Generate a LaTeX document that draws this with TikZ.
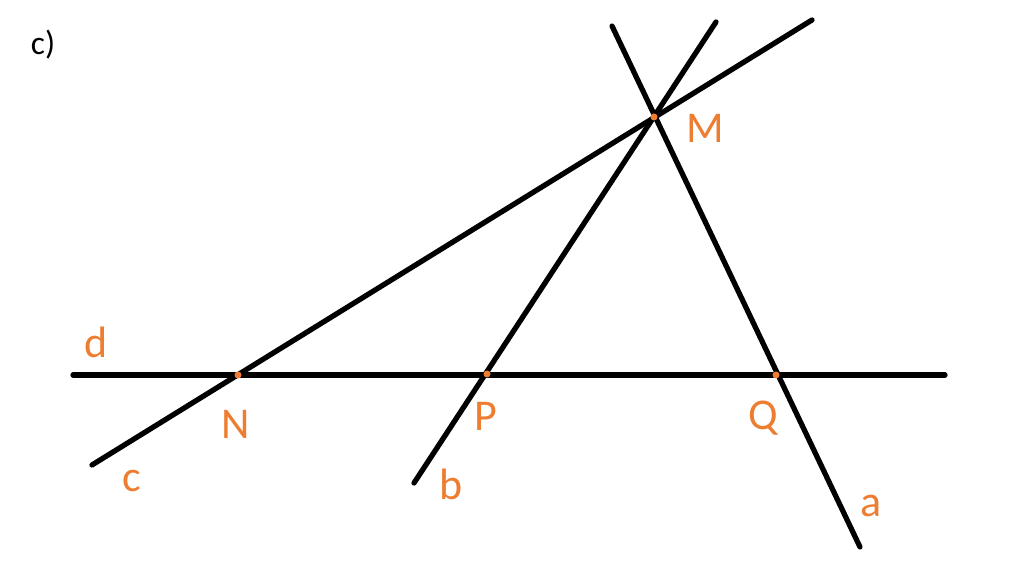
\documentclass[tikz,border=0pt]{standalone}
\usepackage{fontspec}
\setmainfont{Carlito}
\definecolor{pomarancz}{RGB}{237,125,49}

\begin{document}
\begin{tikzpicture}[x=0.01cm, y=-0.01cm,
    prosta/.style={line width=1.5pt, black, line cap=round},
    punkt/.style={circle, fill=pomarancz, inner sep=0pt, minimum size=0.07cm},
    etykieta/.style={pomarancz, inner sep=0pt, font=\fontsize{12.5}{15}\selectfont}]
    % Ramka
    \useasboundingbox (0,0) rectangle (1024,586);

    % Podpis
    \node[inner sep=0pt, font=\fontsize{9.5}{11}\selectfont] (podpis) at (43,45) {c)};

    % Końce prostych
    \coordinate (d1) at (73,375);
    \coordinate (d2) at (945,375);
    \coordinate (c1) at (92,465);
    \coordinate (c2) at (812,20);
    \coordinate (b1) at (414,483);
    \coordinate (b2) at (716,22);
    \coordinate (a1) at (860,547);
    \coordinate (a2) at (612,26);

    % Proste
    \draw[prosta] (d1) -- (d2);
    \draw[prosta] (c1) -- (c2);
    \draw[prosta] (b1) -- (b2);
    \draw[prosta] (a1) -- (a2);

    % Punkty przecięcia
    \node[punkt] (M) at (654,117) {};
    \node[punkt] (N) at (238,375) {};
    \node[punkt] (P) at (487,374) {};
    \node[punkt] (Q) at (776,375) {};

    % Etykiety
    \node[etykieta] (lM) at (705,128) {M};
    \node[etykieta] (lN) at (236,424) {N};
    \node[etykieta] (lP) at (486,416) {P};
    \node[etykieta] (lQ) at (763,418) {Q};
    \node[etykieta] (la) at (871,506) {a};
    \node[etykieta] (lb) at (451,484) {b};
    \node[etykieta] (lc) at (132,481) {c};
    \node[etykieta] (ld) at (96,342) {d};
\end{tikzpicture}
\end{document}
